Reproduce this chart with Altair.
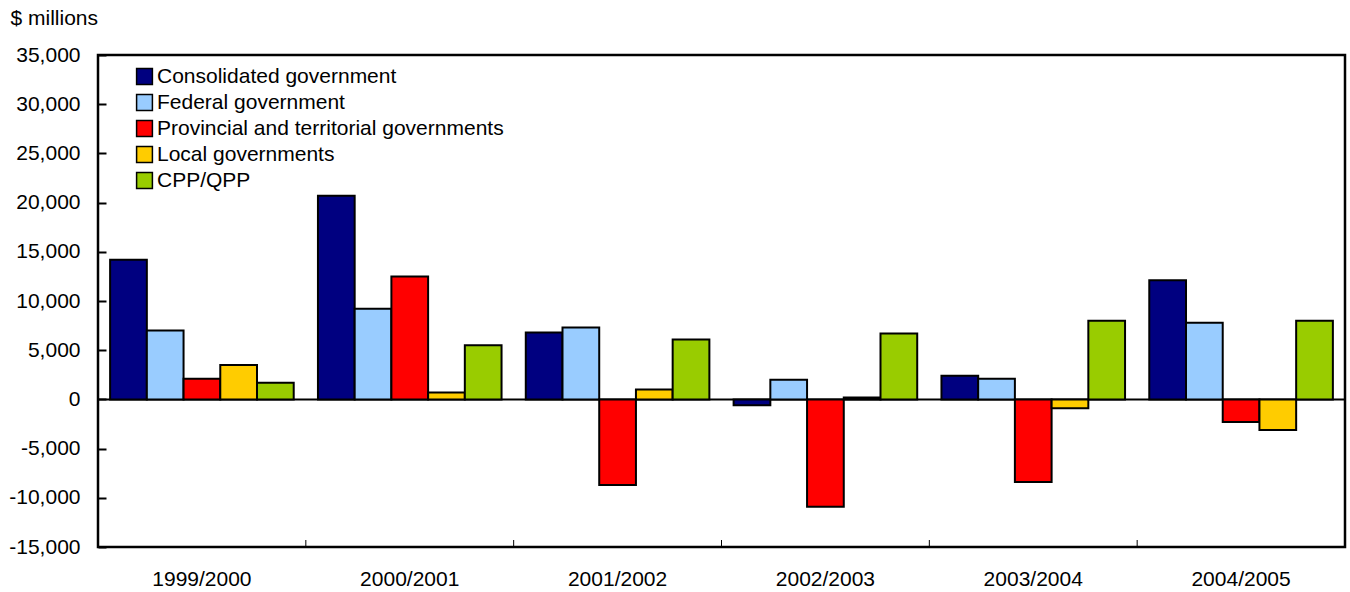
import altair as alt
import pandas as pd

periods = ["1999/2000", "2000/2001", "2001/2002", "2002/2003", "2003/2004", "2004/2005"]
series = ["Consolidated government", "Federal government",
          "Provincial and territorial governments", "Local governments", "CPP/QPP"]
consolidated = [14200, 20700, 6800, -600, 2400, 12100]
federal = [7000, 9200, 7300, 2000, 2100, 7800]
provincial = [2100, 12500, -8700, -10900, -8400, -2300]
local = [3500, 700, 1000, 200, -900, -3100]
cpp = [1700, 5500, 6100, 6700, 8000, 8000]
colors = ["#000080", "#99CCFF", "#FF0000", "#FFCC00", "#99CC00"]
y_ticks = [-15000, -10000, -5000, 0, 5000, 10000, 15000, 20000, 25000, 30000, 35000]

values = [consolidated, federal, provincial, local, cpp]
rows = []
for s, vals in zip(series, values):
    for p, v in zip(periods, vals):
        rows.append({"period": p, "series": s, "value": v})
df = pd.DataFrame(rows)

W, H = 1247, 492
FONT = "Liberation Sans"
FS = 21

x_scale = alt.Scale(domain=periods, paddingInner=0, paddingOuter=0)
y_scale = alt.Scale(domain=[-15000, 35000], nice=False, zero=False)

bars = alt.Chart(df).mark_bar(stroke="black", strokeWidth=2).encode(
    x=alt.X("period:N", scale=x_scale, sort=periods,
            axis=alt.Axis(title=None, labelAngle=0, ticks=False, domain=False,
                          labelPadding=21, labelFontSize=FS, labelFont=FONT,
                          labelColor="black")),
    xOffset=alt.XOffset("series:N", sort=series,
                        scale=alt.Scale(domain=series, paddingInner=0, paddingOuter=0.33)),
    y=alt.Y("value:Q", scale=y_scale,
            axis=alt.Axis(title="$ millions", values=y_ticks, ticks=True, tickSize=8,
                          tickWidth=2, tickColor="black", offset=-8, domain=False,
                          grid=False, labelPadding=18, labelFontSize=FS, labelFont=FONT,
                          labelColor="black",
                          labelExpr="replace(format(datum.value, ','), '\u2212', '-')",
                          titleAngle=0, titleX=-96, titleY=-37, titleAlign="left",
                          titleBaseline="middle", titleFontSize=FS, titleFont=FONT,
                          titleFontWeight="normal", titleColor="black")),
    color=alt.Color("series:N", sort=series,
                    scale=alt.Scale(domain=series, range=colors),
                    legend=alt.Legend(title=None, orient="none", legendX=36, legendY=11,
                                      symbolType="square", symbolSize=250,
                                      symbolStrokeColor="black", symbolStrokeWidth=1.5,
                                      symbolOpacity=1, labelFontSize=FS, labelFont=FONT,
                                      labelColor="black", labelOffset=2, rowPadding=3,
                                      padding=0, labelLimit=600)),
)

zero = alt.Chart(pd.DataFrame({"v": [0]})).mark_rule(color="black", strokeWidth=2).encode(
    y=alt.Y("v:Q", scale=y_scale))

xtick_df = pd.DataFrame({"period": periods[1:]})
xticks = alt.Chart(xtick_df).mark_rule(color="black", strokeWidth=1).encode(
    x=alt.X("period:N", scale=x_scale, bandPosition=0),
    y=alt.value(H - 7), y2=alt.value(H))

chart = alt.layer(zero, bars, xticks).properties(
    width=W, height=H,
    background="white",
    autosize=alt.AutoSizeParams(type="none"),
    padding={"left": 98, "top": 55, "right": 5, "bottom": 45},
).configure_view(stroke="black", strokeWidth=2.5)

chart.save("out.html", embed_options={"renderer": "svg", "actions": False})
